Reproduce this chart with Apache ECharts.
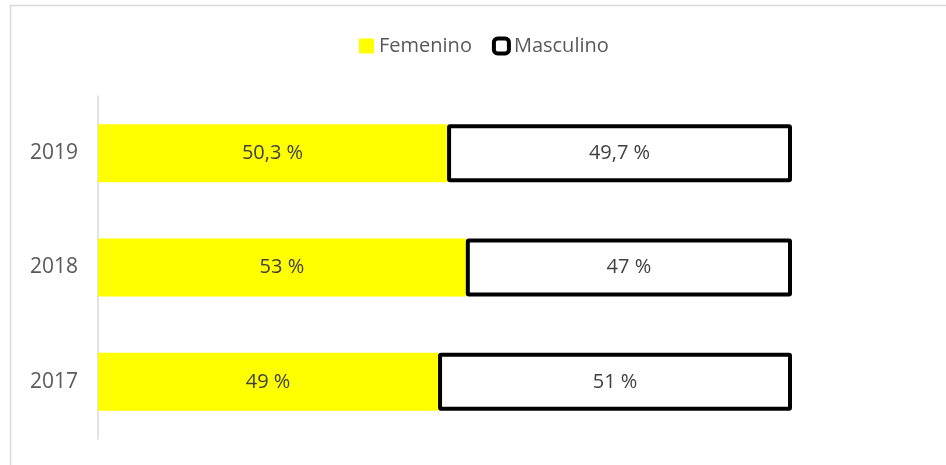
<!DOCTYPE html>
<html>
<head>
<meta charset="utf-8">
<script src="https://cdn.jsdelivr.net/npm/echarts@6/dist/echarts.min.js"></script>
<style>
  html, body { margin: 0; padding: 0; background: #fff; }
  #chart { width: 946px; height: 465px; }
</style>
</head>
<body>
<div id="chart"></div>
<script>
const years = ['2017', '2018', '2019']
const femenino = [49, 53, 50.3]
const masculino = [51, 47, 49.7]

const fmt = (p) => String(p.value).replace('.', ',') + ' %'
const font = '"Open Sans", "Liberation Sans", sans-serif'

const chart = echarts.init(document.getElementById('chart'))

chart.setOption({
  animation: false,
  textStyle: { fontFamily: font },
  graphic: [{
    type: 'rect',
    shape: { x: 10.5, y: 5.5, width: 1000, height: 1000 },
    style: { fill: 'none', stroke: '#d9d9d9', lineWidth: 1.5 },
    silent: true
  }],
  legend: {
    top: 31,
    left: 354,
    padding: 5,
    itemWidth: 15,
    itemHeight: 15,
    itemGap: 20,
    textStyle: { fontSize: 20, color: '#595959', fontFamily: font },
    data: [
      { name: 'Femenino', icon: 'rect' },
      { name: 'Masculino', icon: 'roundRect', itemStyle: { borderWidth: 4 } }
    ]
  },
  grid: { left: 98, right: 154, top: 96, bottom: 26 },
  xAxis: {
    type: 'value',
    min: 0,
    max: 100,
    show: false
  },
  yAxis: {
    type: 'category',
    data: years,
    axisLine: { lineStyle: { color: '#d9d9d9', width: 1.5 } },
    axisTick: { show: false },
    axisLabel: { color: '#595959', fontSize: 21, margin: 20, fontFamily: font }
  },
  series: [
    {
      name: 'Femenino',
      type: 'bar',
      stack: 'total',
      barWidth: 58,
      data: femenino,
      itemStyle: { color: '#ffff00' },
      label: { show: true, position: 'inside', formatter: fmt, color: '#404040', fontSize: 20, fontFamily: font }
    },
    {
      name: 'Masculino',
      type: 'bar',
      stack: 'total',
      barWidth: 58,
      data: masculino,
      itemStyle: { color: '#ffffff', borderColor: '#000000', borderWidth: 4, borderRadius: 1 },
      label: { show: true, position: 'inside', formatter: fmt, color: '#404040', fontSize: 20, fontFamily: font }
    }
  ]
})
</script>
</body>
</html>
